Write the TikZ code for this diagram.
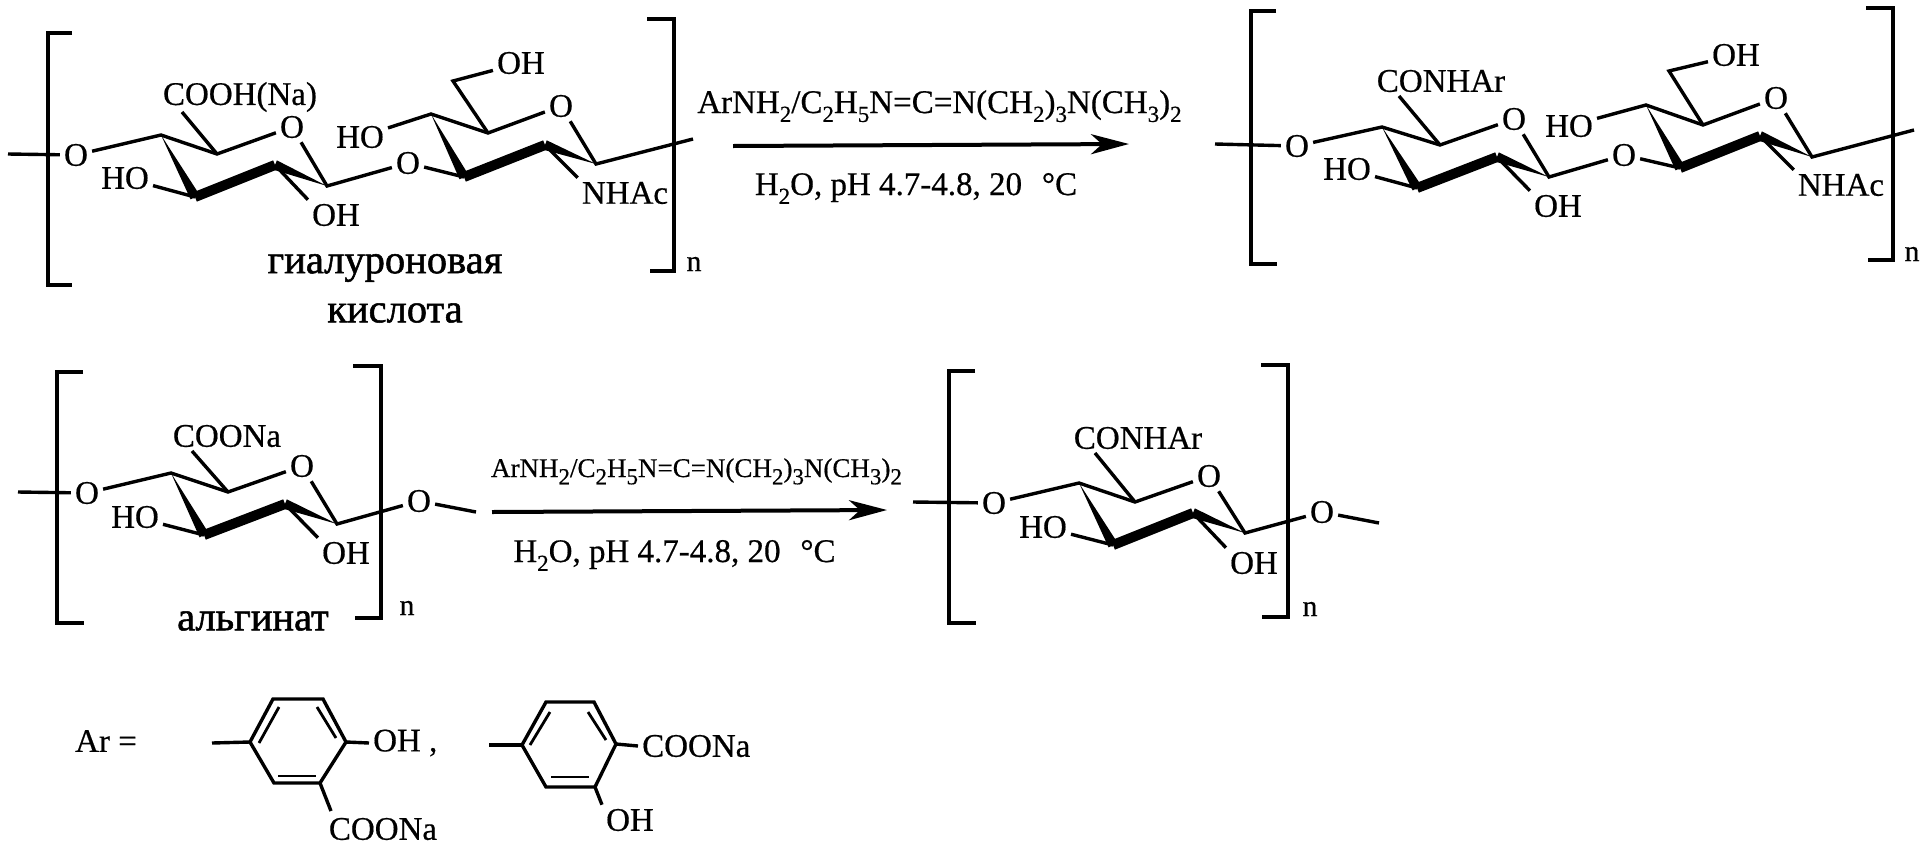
\documentclass[tikz,border=0pt]{standalone}
\usepackage{fontspec}
\setmainfont{Liberation Serif}[FakeBold=0.5]
\newfontfamily\namefont{Liberation Serif}[FakeBold=1.3]
\usetikzlibrary{arrows.meta,calc}

\newcommand{\sbs}[1]{\raisebox{-.27em}{\fontsize{23}{23}\selectfont #1}}
\newcommand{\wedgebond}[2]{\fill ($(#2)!5pt!90:(#1)$) -- ($(#2)!5pt!-90:(#1)$) -- (#1) -- cycle;}

\tikzset{
    atom/.style = {inner sep=4pt, font=\fontsize{33}{36}\selectfont},
    name label/.style = {inner sep=1pt, font=\namefont\fontsize{40.5}{42}\selectfont},
    reagent/.style = {inner sep=0pt, anchor=base, font=\fontsize{33}{36}\selectfont},
    reagent small/.style = {reagent, font=\fontsize{27}{30}\selectfont},
    repeat n/.style = {inner sep=0pt, font=\fontsize{30}{32}\selectfont},
    bond/.style = {line width=3.4pt},
    bold bond/.style = {line width=10pt},
    inner bond/.style = {line width=2.8pt},
    bracket/.style = {line width=4pt},
    reaction/.style = {line width=4pt, -{Stealth[length=38pt,width=20pt,inset=11pt]}},
}

\begin{document}
\begin{tikzpicture}[x=1pt, y=-1pt]
    \useasboundingbox (0,0) rectangle (1927,847);

    % hyaluronic acid
    \draw[bracket] (72,33) -- (48,33) -- (48,285) -- (72,285);
    \draw[bracket] (647,19) -- (674,19) -- (674,271) -- (650,271);
    \node[repeat n] (an) at (694,264) {n};
    \coordinate (aL) at (8,154);
    \coordinate (aR) at (693,139);
    \coordinate (aC1) at (161,135);
    \coordinate (aC2) at (217,154);
    \coordinate (aC3) at (327,186);
    \coordinate (aC4) at (275,165);
    \coordinate (aC5) at (195,197);
    \coordinate (aC6) at (431,114);
    \coordinate (aC7) at (488,133);
    \coordinate (aC8) at (596,164);
    \coordinate (aC9) at (545,145);
    \coordinate (aC10) at (464,177);
    \coordinate (aCH) at (453,81);
    \coordinate (aAc) at (182,112);
    \node[atom] (aO1) at (76,155) {O};
    \node[atom] (aO2) at (292,127) {O};
    \node[atom] (aO3) at (408,163) {O};
    \node[atom] (aO4) at (561,106) {O};
    \node[atom] (aHO1) at (125,178) {HO};
    \node[atom] (aHO2) at (360,137) {HO};
    \node[atom] (aOH1) at (336,215) {OH};
    \node[atom] (aOH2) at (521,63) {OH};
    \node[atom] (aCOOH) at (240,97) {COOH(Na)};
    \node[atom] (aNHAc) at (625,193) {NHAc};
    \node[name label] (aname1) at (385,268) {гиалуроновая};
    \node[name label] (aname2) at (395,313) {кислота};
    \draw[bond] (aL) -- (aO1);
    \draw[bond] (aO1) -- (aC1) -- (aC2) -- (aO2);
    \draw[bond] (aC2) -- (aAc);
    \draw[bond] (aO2) -- (aC3) -- (aO3);
    \draw[bond] (aO3) -- (aC10);
    \draw[bond] (aHO1) -- (aC5);
    \draw[bond] (aC4) -- (aOH1.north west);
    \draw[bond] (aHO2) -- (aC6) -- (aC7) -- (aO4);
    \draw[bond] (aC7) -- (aCH) -- (aOH2);
    \draw[bond] (aO4) -- (aC8) -- (aR);
    \draw[bond] (aC9) -- (aNHAc.north west);
    \wedgebond{aC1}{aC5}
    \draw[bold bond] (aC5) -- (aC4);
    \wedgebond{aC3}{aC4}
    \wedgebond{aC6}{aC10}
    \draw[bold bond] (aC10) -- (aC9);
    \wedgebond{aC8}{aC9}

    % first reaction
    \coordinate (r1s) at (733,146);
    \coordinate (r1e) at (1129,144);
    \draw[reaction] (r1s) -- (r1e);
    \node[reagent] (r1t) at (939.5,113) {ArNH\sbs{2}/C\sbs{2}H\sbs{5}N=C=N(CH\sbs{2})\sbs{3}N(CH\sbs{3})\sbs{2}};
    \node[reagent] (r1b) at (916,195) {H\sbs{2}O, pH 4.7-4.8, 20\hspace{.6em}°C};

    % hyaluronic acid amide
    \draw[bracket] (1276,11) -- (1251,11) -- (1251,264) -- (1277,264);
    \draw[bracket] (1866,8) -- (1893,8) -- (1893,260) -- (1868,260);
    \node[repeat n] (bn) at (1912,254) {n};
    \coordinate (bL) at (1215,144);
    \coordinate (bR) at (1914,130);
    \coordinate (bC1) at (1382,127);
    \coordinate (bC2) at (1440,145);
    \coordinate (bC3) at (1549,177);
    \coordinate (bC4) at (1497,157);
    \coordinate (bC5) at (1417,188);
    \coordinate (bC6) at (1646,105);
    \coordinate (bC7) at (1703,125);
    \coordinate (bC8) at (1812,157);
    \coordinate (bC9) at (1760,136);
    \coordinate (bC10) at (1680,168);
    \coordinate (bCH) at (1669,71);
    \coordinate (bAm) at (1399,96);
    \node[atom] (bO1) at (1297,146) {O};
    \node[atom] (bO2) at (1514,119) {O};
    \node[atom] (bO3) at (1624,155) {O};
    \node[atom] (bO4) at (1776,98) {O};
    \node[atom] (bHO1) at (1347,169) {HO};
    \node[atom] (bHO2) at (1569,126) {HO};
    \node[atom] (bOH1) at (1558,206) {OH};
    \node[atom] (bOH2) at (1736,55) {OH};
    \node[atom] (bCONH) at (1441,81) {CONHAr};
    \node[atom] (bNHAc) at (1841,185) {NHAc};
    \draw[bond] (bL) -- (bO1);
    \draw[bond] (bO1) -- (bC1) -- (bC2) -- (bO2);
    \draw[bond] (bC2) -- (bAm);
    \draw[bond] (bO2) -- (bC3) -- (bO3);
    \draw[bond] (bO3) -- (bC10);
    \draw[bond] (bHO1) -- (bC5);
    \draw[bond] (bC4) -- (bOH1.north west);
    \draw[bond] (bHO2) -- (bC6) -- (bC7) -- (bO4);
    \draw[bond] (bC7) -- (bCH) -- (bOH2);
    \draw[bond] (bO4) -- (bC8) -- (bR);
    \draw[bond] (bC9) -- (bNHAc.north west);
    \wedgebond{bC1}{bC5}
    \draw[bold bond] (bC5) -- (bC4);
    \wedgebond{bC3}{bC4}
    \wedgebond{bC6}{bC10}
    \draw[bold bond] (bC10) -- (bC9);
    \wedgebond{bC8}{bC9}

    % alginate
    \draw[bracket] (83,372) -- (57,372) -- (57,623) -- (84,623);
    \draw[bracket] (353,366) -- (381,366) -- (381,618) -- (355,618);
    \node[repeat n] (cn) at (407,608) {n};
    \coordinate (cL) at (18,492);
    \coordinate (cR) at (476,512);
    \coordinate (cC1) at (171,473);
    \coordinate (cC2) at (228,492);
    \coordinate (cC3) at (337,524);
    \coordinate (cC4) at (285,504);
    \coordinate (cC5) at (204,535);
    \coordinate (cAc) at (192,451);
    \node[atom] (cO1) at (87,493) {O};
    \node[atom] (cO2) at (302,466) {O};
    \node[atom] (cO3) at (419,501) {O};
    \node[atom] (cHO) at (135,517) {HO};
    \node[atom] (cOH) at (346,553) {OH};
    \node[atom] (cCOO) at (227,436) {COONa};
    \node[name label] (cname) at (253,621) {альгинат};
    \draw[bond] (cL) -- (cO1);
    \draw[bond] (cO1) -- (cC1) -- (cC2) -- (cO2);
    \draw[bond] (cC2) -- (cAc);
    \draw[bond] (cO2) -- (cC3) -- (cO3) -- (cR);
    \draw[bond] (cHO) -- (cC5);
    \draw[bond] (cC4) -- (cOH.north west);
    \wedgebond{cC1}{cC5}
    \draw[bold bond] (cC5) -- (cC4);
    \wedgebond{cC3}{cC4}

    % second reaction
    \coordinate (r2s) at (492,512);
    \coordinate (r2e) at (887,510);
    \draw[reaction] (r2s) -- (r2e);
    \node[reagent small] (r2t) at (696.5,477) {ArNH\sbs{2}/C\sbs{2}H\sbs{5}N=C=N(CH\sbs{2})\sbs{3}N(CH\sbs{3})\sbs{2}};
    \node[reagent] (r2b) at (674.5,562) {H\sbs{2}O, pH 4.7-4.8, 20\hspace{.6em}°C};

    % alginate amide
    \draw[bracket] (975,371) -- (949,371) -- (949,623) -- (976,623);
    \draw[bracket] (1261,365) -- (1288,365) -- (1288,617) -- (1262,617);
    \node[repeat n] (dn) at (1310,609) {n};
    \coordinate (dL) at (913,502);
    \coordinate (dR) at (1379,523);
    \coordinate (dC1) at (1079,483);
    \coordinate (dC2) at (1135,502);
    \coordinate (dC3) at (1245,533);
    \coordinate (dC4) at (1193,513);
    \coordinate (dC5) at (1113,545);
    \coordinate (dAm) at (1095,453);
    \node[atom] (dO1) at (994,503) {O};
    \node[atom] (dO2) at (1209,476) {O};
    \node[atom] (dO3) at (1322,512) {O};
    \node[atom] (dHO) at (1043,527) {HO};
    \node[atom] (dOH) at (1254,563) {OH};
    \node[atom] (dCONH) at (1138,438) {CONHAr};
    \draw[bond] (dL) -- (dO1);
    \draw[bond] (dO1) -- (dC1) -- (dC2) -- (dO2);
    \draw[bond] (dC2) -- (dAm);
    \draw[bond] (dO2) -- (dC3) -- (dO3) -- (dR);
    \draw[bond] (dHO) -- (dC5);
    \draw[bond] (dC4) -- (dOH.north west);
    \wedgebond{dC1}{dC5}
    \draw[bold bond] (dC5) -- (dC4);
    \wedgebond{dC3}{dC4}

    % aryl groups
    \node[atom] (ar) at (106,741) {Ar =};
    \coordinate (e1) at (250,742);
    \coordinate (e2) at (273,699);
    \coordinate (e3) at (323,699);
    \coordinate (e4) at (346,742);
    \coordinate (e5) at (320,783);
    \coordinate (e6) at (274,783);
    \coordinate (eS) at (212,743);
    \coordinate (eB) at (331,811);
    \node[atom, anchor=west] (eOH) at (369,743) {OH ,};
    \node[atom] (eCOO) at (383,829) {COONa};
    \draw[bond] (eS) -- (e1);
    \draw[bond] (e1) -- (e2) -- (e3) -- (e4) -- (e5) -- (e6) -- cycle;
    \draw[bond] (e4) -- (eOH.west);
    \draw[bond] (e5) -- (eB);
    \draw[inner bond] (259,743) -- (279,707);
    \draw[inner bond] (317,707) -- (336,738);
    \draw[inner bond] (278,776) -- (316,776);

    \coordinate (f1) at (522,745);
    \coordinate (f2) at (546,702);
    \coordinate (f3) at (594,702);
    \coordinate (f4) at (616,744);
    \coordinate (f5) at (595,787);
    \coordinate (f6) at (546,787);
    \coordinate (fS) at (489,745);
    \node[atom, anchor=west] (fCOO) at (638,746) {COONa};
    \node[atom] (fOH) at (630,820) {OH};
    \draw[bond] (fS) -- (f1);
    \draw[bond] (f1) -- (f2) -- (f3) -- (f4) -- (f5) -- (f6) -- cycle;
    \draw[bond] (f4) -- (fCOO.west);
    \draw[bond] (f5) -- (fOH.north west);
    \draw[inner bond] (530,745) -- (550,712);
    \draw[inner bond] (588,712) -- (606,740);
    \draw[inner bond] (551,777) -- (589,777);
\end{tikzpicture}
\end{document}
